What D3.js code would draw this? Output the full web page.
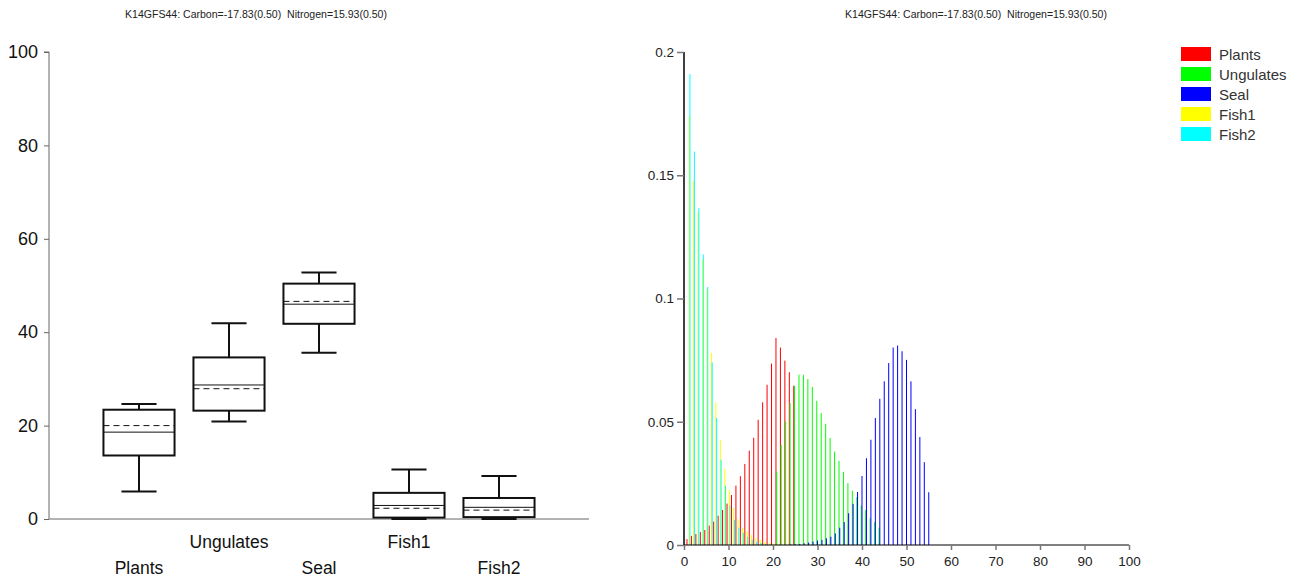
<!DOCTYPE html>
<html>
<head>
<meta charset="utf-8">
<script src="https://cdn.jsdelivr.net/npm/d3@7"></script>
<style>
  html, body { margin: 0; padding: 0; background: #fff; }
  svg { display: block; font-family: "Liberation Sans", Arial, sans-serif; }
  .title { white-space: pre; }
</style>
</head>
<body>
<svg id="chart" width="1299" height="579"></svg>
<script>
// ---- Title ----
const titleText = "K14GFS44: Carbon=-17.83(0.50)  Nitrogen=15.93(0.50)";

// ---- Box plot data (percent contribution per source) ----
const boxCategories = ["Plants", "Ungulates", "Seal", "Fish1", "Fish2"];
const boxLow    = [5.9, 20.9, 35.6, 0.0, 0.0];
const boxQ1     = [13.6, 23.2, 41.8, 0.3, 0.4];
const boxMedian = [18.6, 28.7, 46.0, 2.9, 2.5];
const boxMean   = [20.0, 27.9, 46.6, 2.3, 1.9];
const boxQ3     = [23.4, 34.6, 50.4, 5.6, 4.5];
const boxHigh   = [24.6, 41.9, 52.8, 10.6, 9.2];
const boxTicks  = [0, 20, 40, 60, 80, 100];

// ---- Histogram data (probability per 1% bin) ----
const seriesNames  = ["Plants", "Ungulates", "Seal", "Fish1", "Fish2"];
const seriesColors = ["#ff0000", "#00ff00", "#0000ff", "#ffff00", "#00ffff"];
const plantsStart = 1;
const plantsDensity = [0.0024, 0.0037, 0.0045, 0.0053, 0.0061, 0.0079, 0.0095, 0.0119, 0.0142, 0.0168,
  0.0203, 0.0241, 0.0279, 0.0329, 0.0383, 0.0435, 0.0508, 0.0579, 0.0650, 0.0736,
  0.0840, 0.0801, 0.0748, 0.0701, 0.0646];
const ungulatesStart = 21;
const ungulatesDensity = [0.0298, 0.0407, 0.0501, 0.0576, 0.0646, 0.0691, 0.0691, 0.0673, 0.0641, 0.0585,
  0.0535, 0.0492, 0.0434, 0.0379, 0.0341, 0.0297, 0.0251, 0.0220, 0.0194, 0.0160,
  0.0142, 0.0110, 0.0093, 0.0070];
const sealStart = 24;
const sealDensity = [0.0002, 0.0003, 0.0004, 0.0007, 0.0010, 0.0014, 0.0018, 0.0021, 0.0027, 0.0034,
  0.0047, 0.0070, 0.0093, 0.0129, 0.0167, 0.0215, 0.0280, 0.0352, 0.0427, 0.0515,
  0.0593, 0.0664, 0.0738, 0.0801, 0.0809, 0.0786, 0.0751, 0.0664, 0.0551, 0.0438,
  0.0336, 0.0214];
const fish1Start = 1;
const fish1Density = [0.1740, 0.1477, 0.1350, 0.1159, 0.1039, 0.0779, 0.0579, 0.0427, 0.0310, 0.0224,
  0.0152, 0.0104, 0.0070, 0.0054, 0.0040, 0.0028, 0.0020, 0.0013, 0.0008, 0.0005, 0.0003];
const fish2Start = 1;
const fish2Density = [0.1910, 0.1596, 0.1366, 0.1179, 0.1047, 0.0741, 0.0515, 0.0346, 0.0241, 0.0161,
  0.0102, 0.0070, 0.0050, 0.0033, 0.0022, 0.0014, 0.0009, 0.0005, 0.0003];
const histXTicks = [0, 10, 20, 30, 40, 50, 60, 70, 80, 90, 100];
const histYTicks = [0, 0.05, 0.1, 0.15, 0.2];

const svg = d3.select("#chart");

// ================= Left: box plot =================
const left = svg.append("g");
const bx = d3.scaleLinear().domain([0, 6]).range([49, 589]);
const by = d3.scaleLinear().domain([0, 100]).range([519, 52]);

left.append("text")
  .attr("class", "title")
  .attr("x", 256).attr("y", 18)
  .attr("text-anchor", "middle")
  .attr("font-size", 11).attr("fill", "#222")
  .attr("textLength", 262).attr("lengthAdjust", "spacingAndGlyphs")
  .text(titleText);

const leftAxis = left.append("g")
  .attr("transform", `translate(${bx(0)},0)`)
  .call(d3.axisLeft(by).tickValues(boxTicks).tickSize(5).tickPadding(6));
leftAxis.select(".domain").attr("stroke", "#666").attr("d", `M-5,${by(100)}H0V${by(0)}`);
leftAxis.selectAll(".tick line").attr("stroke", "#666");
leftAxis.selectAll(".tick text")
  .attr("font-size", 18).attr("fill", "#111")
  .attr("font-family", "Liberation Sans, Arial, sans-serif");

// baseline
left.append("line")
  .attr("x1", bx(0)).attr("x2", bx(6))
  .attr("y1", by(0)).attr("y2", by(0))
  .attr("stroke", "#666").attr("stroke-width", 1);

const boxData = boxCategories.map((c, i) => ({
  name: c, pos: i + 1,
  low: boxLow[i], q1: boxQ1[i], med: boxMedian[i], mean: boxMean[i], q3: boxQ3[i], high: boxHigh[i]
}));
const boxW = 0.79, capW = 0.39;
const boxes = left.append("g").selectAll("g").data(boxData).join("g");

boxes.append("line") // upper whisker
  .attr("x1", d => bx(d.pos)).attr("x2", d => bx(d.pos))
  .attr("y1", d => by(d.q3)).attr("y2", d => by(d.high))
  .attr("stroke", "#111").attr("stroke-width", 2);
boxes.append("line") // lower whisker
  .attr("x1", d => bx(d.pos)).attr("x2", d => bx(d.pos))
  .attr("y1", d => by(d.q1)).attr("y2", d => by(d.low))
  .attr("stroke", "#111").attr("stroke-width", 2);
boxes.append("line") // upper cap
  .attr("x1", d => bx(d.pos - capW / 2)).attr("x2", d => bx(d.pos + capW / 2))
  .attr("y1", d => by(d.high)).attr("y2", d => by(d.high))
  .attr("stroke", "#111").attr("stroke-width", 2);
boxes.append("line") // lower cap
  .attr("x1", d => bx(d.pos - capW / 2)).attr("x2", d => bx(d.pos + capW / 2))
  .attr("y1", d => by(d.low)).attr("y2", d => by(d.low))
  .attr("stroke", "#111").attr("stroke-width", 2);
boxes.append("rect")
  .attr("x", d => bx(d.pos - boxW / 2)).attr("width", bx(boxW) - bx(0))
  .attr("y", d => by(d.q3)).attr("height", d => by(d.q1) - by(d.q3))
  .attr("fill", "#fff").attr("stroke", "#111").attr("stroke-width", 2);
boxes.append("line") // median
  .attr("x1", d => bx(d.pos - boxW / 2)).attr("x2", d => bx(d.pos + boxW / 2))
  .attr("y1", d => by(d.med)).attr("y2", d => by(d.med))
  .attr("stroke", "#111").attr("stroke-width", 1);
boxes.append("line") // mean
  .attr("x1", d => bx(d.pos - boxW / 2)).attr("x2", d => bx(d.pos + boxW / 2))
  .attr("y1", d => by(d.mean)).attr("y2", d => by(d.mean))
  .attr("stroke", "#111").attr("stroke-width", 1).attr("stroke-dasharray", "6,4");

// category labels, staggered on two rows
left.append("g").selectAll("text").data(boxData).join("text")
  .attr("x", d => bx(d.pos))
  .attr("y", (d, i) => i % 2 === 0 ? 574 : 548)
  .attr("text-anchor", "middle")
  .attr("font-size", 17.5).attr("fill", "#111")
  .text(d => d.name);

// ================= Right: histogram =================
const right = svg.append("g");
const hx = d3.scaleLinear().domain([0, 100]).range([684, 1129]);
const hy = d3.scaleLinear().domain([0, 0.2]).range([545, 52]);

right.append("text")
  .attr("class", "title")
  .attr("x", 976).attr("y", 18)
  .attr("text-anchor", "middle")
  .attr("font-size", 11).attr("fill", "#222")
  .attr("textLength", 262).attr("lengthAdjust", "spacingAndGlyphs")
  .text(titleText);

const seriesStarts = [plantsStart, ungulatesStart, sealStart, fish1Start, fish2Start];
const seriesValues = [plantsDensity, ungulatesDensity, sealDensity, fish1Density, fish2Density];
const slot = 1 / 6;   // each 1% bin is split into slots, one per source
const barPx = 1;      // bar width in pixels
const histBars = [];
seriesValues.forEach((vals, s) => {
  vals.forEach((p, k) => histBars.push({ s, bin: seriesStarts[s] + k, p }));
});

right.append("g").selectAll("rect").data(histBars).join("rect")
  .attr("x", d => hx(d.bin + (d.s - 2) * slot) - barPx / 2)
  .attr("width", barPx)
  .attr("y", d => hy(d.p))
  .attr("height", d => hy(0) - hy(d.p))
  .attr("fill", d => seriesColors[d.s]);

const hxAxis = right.append("g")
  .attr("transform", `translate(0,${hy(0)})`)
  .call(d3.axisBottom(hx).tickValues(histXTicks).tickSize(5).tickPadding(6).tickFormat(d3.format("d")));
hxAxis.select(".domain").attr("stroke", "#000").attr("d", `M${hx(0)},0H${hx(100)}`);
hxAxis.selectAll(".tick line").attr("stroke", "#777").attr("stroke-width", 1.5);
hxAxis.selectAll(".tick text").attr("font-size", 13.5).attr("fill", "#222")
  .attr("font-family", "Liberation Sans, Arial, sans-serif");

const hyAxis = right.append("g")
  .attr("transform", `translate(${hx(0)},0)`)
  .call(d3.axisLeft(hy).tickValues(histYTicks).tickSize(7).tickPadding(3).tickFormat(d => String(d)));
hyAxis.select(".domain").attr("stroke", "#000").attr("stroke-width", 1.5).attr("d", `M0,${hy(0.2)}V${hy(0)}`);
hyAxis.selectAll(".tick line").attr("stroke", "#777").attr("stroke-width", 1.5);
hyAxis.selectAll(".tick text").attr("font-size", 13.5).attr("fill", "#222")
  .attr("font-family", "Liberation Sans, Arial, sans-serif");

// legend
const legend = right.append("g").selectAll("g").data(seriesNames).join("g")
  .attr("transform", (d, i) => `translate(1181,${47 + i * 20})`);
legend.append("rect")
  .attr("width", 30).attr("height", 14)
  .attr("fill", (d, i) => seriesColors[i]);
legend.append("text")
  .attr("x", 38).attr("y", 12.5)
  .attr("font-size", 15).attr("fill", "#333")
  .text(d => d);
</script>
</body>
</html>
